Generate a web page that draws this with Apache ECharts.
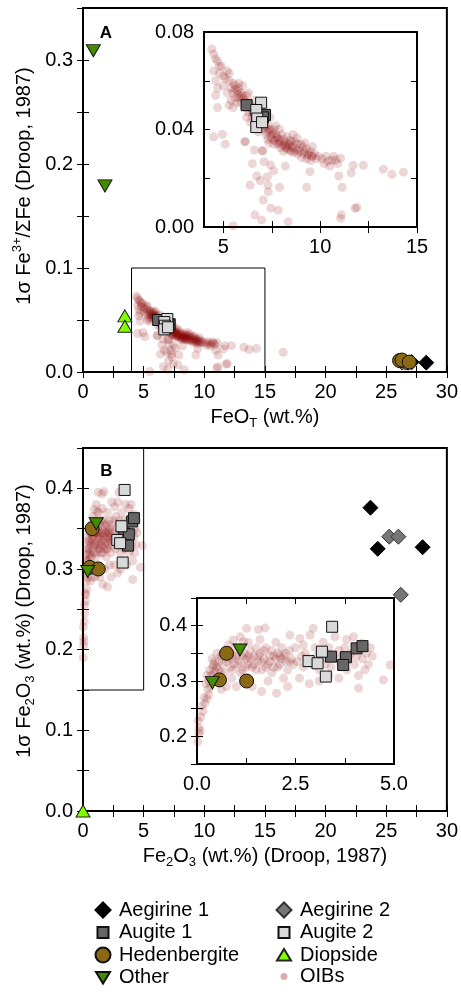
<!DOCTYPE html>
<html>
<head>
<meta charset="utf-8">
<title>Fe3+ uncertainty, pyroxenes vs OIBs</title>
<script src="https://cdn.jsdelivr.net/npm/echarts@6/dist/echarts.min.js"></script>
<style>
  html, body { margin: 0; padding: 0; background: #fff; }
  #chart { width: 461px; height: 992px; }
</style>
</head>
<body>
<div id="chart"></div>
<script>
// ---- panel A: FeO_T (wt.%) vs 1 sigma Fe3+/sum Fe ----
var aeg1A = [[26.8, 0.009], [27.1, 0.0095], [28.3, 0.009]];
var aeg2A = [[26.3, 0.009], [26.5, 0.010], [26.6, 0.009]];
var aug1A = [[6.2, 0.050], [6.75, 0.046], [7.15, 0.046], [6.9, 0.044], [7.05, 0.045]];
var aug2A = [[6.95, 0.051], [6.7, 0.048], [6.75, 0.0445], [6.7, 0.041], [7.0, 0.043]];
var hedA = [[26.1, 0.011], [26.3, 0.0115], [26.9, 0.0095]];
var diopA = [[3.45, 0.054], [3.45, 0.044]];
var otherA = [[0.85, 0.309], [1.81, 0.179]];
var oibA = [
  [4.4,0.073],[4.5,0.071],[4.6,0.069],[4.7,0.068],[4.9,0.066],[4.5,0.064],[4.8,0.063],[5.0,0.062],
  [4.6,0.060],[5.1,0.061],[4.7,0.057],[4.6,0.054],[4.7,0.049],[4.5,0.037],[4.95,0.038],[5.1,0.034],
  [4.8,0.066],[5.2,0.064],[5.3,0.063],[5.0,0.058],
  [5.3,0.060],[5.5,0.059],[5.4,0.057],[5.6,0.058],[5.7,0.056],[5.5,0.055],[5.8,0.057],[5.9,0.055],
  [5.6,0.053],[5.8,0.053],[6.0,0.054],[5.7,0.051],[5.9,0.051],[5.2,0.055],[5.4,0.052],[5.5,0.049],
  [5.8,0.059],[6.0,0.058],[5.3,0.050],
  [6.1,0.052],[6.2,0.054],[6.3,0.051],[6.1,0.049],[6.4,0.050],[6.5,0.048],[6.3,0.047],[6.6,0.049],
  [6.7,0.047],[6.5,0.045],[6.8,0.046],[6.9,0.044],[6.6,0.043],[6.2,0.045],[6.4,0.043],[6.7,0.041],
  [6.1,0.035],[6.6,0.0316],[6.8,0.039],[7.0,0.042],[6.3,0.055],[6.6,0.052],[6.9,0.049],
  [7.1,0.043],[7.2,0.041],[7.3,0.042],[7.4,0.040],[7.5,0.039],[7.2,0.038],[7.6,0.040],[7.7,0.038],
  [7.5,0.036],[7.8,0.037],[7.9,0.036],[7.6,0.034],[7.8,0.034],[8.0,0.038],[7.3,0.036],[7.0,0.0313],
  [7.1,0.0268],[7.44,0.0254],[7.27,0.0206],[7.9,0.0401],[7.7,0.0415],[7.4,0.045],
  [8.1,0.036],[8.2,0.035],[8.3,0.037],[8.4,0.034],[8.5,0.035],[8.6,0.033],[8.3,0.032],[8.7,0.035],
  [8.8,0.034],[8.9,0.032],[8.5,0.031],[8.2,0.033],[8.8,0.0365],[8.1,0.031],[8.6,0.038],[9.0,0.034],
  [9.1,0.033],[9.2,0.031],[9.3,0.032],[9.4,0.030],[9.5,0.031],[9.6,0.029],[9.7,0.030],[9.3,0.028],
  [9.8,0.028],[9.9,0.029],[9.5,0.0273],[9.47,0.0227],[9.2,0.0345],[9.6,0.033],
  [10.1,0.028],[10.3,0.029],[10.4,0.027],[10.6,0.0275],[10.8,0.0275],[10.2,0.026],[10.5,0.025],
  [10.9,0.026],[10.7,0.029],[11.05,0.0282],
  [11.6,0.0222],[11.7,0.0253],[12.23,0.0253],[13.26,0.0237],[13.7,0.0216],[14.3,0.0225],
  [10.96,0.0209],[11.14,0.0163],
  [6.72,0.0209],[7.32,0.0145],[7.06,0.0111],[7.45,0.0077],[6.63,0.005],[6.97,0.0029],[7.83,0.0069],
  [8.35,0.0022],[6.38,0.0172],[7.3,0.0172],[7.9,0.0163],[9.3,0.0163],[11.05,0.0036],[11.8,0.0077],
  [5.51,0.0005],[6.14,0.035],[7.04,0.0313],[16.5,0.019],[6.9,0.019],[7.6,0.023],[6.5,0.026],
  [8.2,0.025],[11.1,0.005],[11.9,0.008],
  [5.6,0.0565],[5.9,0.0535],[6.15,0.051],[6.35,0.049],[6.55,0.0465],[6.75,0.0445],[6.95,0.043],
  [7.15,0.0415],[7.35,0.0395],[7.55,0.038],[7.75,0.0365],[7.95,0.035],[8.15,0.034],[8.35,0.0335],
  [8.55,0.0325],[8.75,0.0315],[8.95,0.031],[9.15,0.030],[9.35,0.0295],[9.55,0.029],[5.75,0.0545],
  [6.05,0.0525],[6.25,0.0505],[6.45,0.0475],[6.65,0.045],[6.85,0.0425],[7.05,0.0405],[7.25,0.039],
  [7.45,0.037],[7.65,0.0355],[7.85,0.0345],[8.05,0.0335],[8.25,0.0325],[8.45,0.0315],[8.65,0.0305],
  [8.85,0.030],[7.35,0.0345],[7.95,0.0325],[8.45,0.0355],[9.05,0.0285]
];

// ---- panel B: Fe2O3 (wt.%) vs 1 sigma Fe2O3 ----
var aeg1B = [[23.7, 0.376], [24.3, 0.325], [28.0, 0.327]];
var aeg2B = [[25.25, 0.340], [26.0, 0.340], [26.2, 0.268]];
var aug1B = [[3.40, 0.344], [3.78, 0.343], [3.71, 0.329], [4.05, 0.359], [4.2, 0.363]];
var aug2B = [[3.43, 0.398], [3.17, 0.353], [2.83, 0.336], [3.06, 0.332], [3.27, 0.308]];
var hedB = [[0.75, 0.350], [0.57, 0.302], [1.26, 0.300]];
var diopB = [[0, 0]];
var otherB = [[0.39, 0.297], [1.09, 0.356]];
var oibB = [
  [0.02,0.19],[0.05,0.205],[0.08,0.21],[0.03,0.228],[0.1,0.235],[0.15,0.245],[0.12,0.255],[0.2,0.26],
  [0.18,0.27],[0.25,0.268],[0.3,0.275],[0.28,0.285],[0.35,0.29],[0.22,0.295],[0.4,0.31],[0.45,0.318],
  [0.32,0.32],[0.5,0.325],[0.42,0.33],[0.55,0.335],[0.38,0.34],[0.6,0.345],[0.5,0.35],[0.65,0.33],
  [0.7,0.315],[0.58,0.305],[0.75,0.29],[0.62,0.285],[0.05,0.215],
  [0.8,0.34],[0.85,0.355],[0.9,0.32],[0.95,0.33],[1.0,0.345],[1.05,0.36],[1.1,0.335],[1.15,0.32],
  [1.2,0.35],[1.25,0.34],[1.3,0.33],[1.35,0.355],[1.4,0.325],[1.45,0.345],[0.92,0.374],[1.18,0.371],
  [1.26,0.395],[0.88,0.305],[1.0,0.29],[1.2,0.305],[1.4,0.29],[1.3,0.37],[1.1,0.38],[0.8,0.365],[1.5,0.36],
  [1.56,0.393],[1.73,0.396],[1.55,0.335],[1.6,0.35],[1.65,0.32],[1.7,0.34],[1.75,0.36],[1.8,0.33],
  [1.85,0.345],[1.9,0.355],[1.95,0.325],[2.0,0.34],[2.05,0.35],[2.1,0.33],[2.15,0.36],[2.2,0.345],
  [2.25,0.335],[2.3,0.32],[2.35,0.355],[2.4,0.34],[2.45,0.33],[1.64,0.281],[2.02,0.278],[1.8,0.3],
  [2.2,0.305],[2.36,0.383],[2.0,0.37],[1.6,0.375],[2.5,0.36],[2.3,0.29],
  [2.55,0.335],[2.61,0.377],[2.65,0.345],[2.7,0.325],[2.75,0.35],[2.8,0.34],[2.87,0.383],[2.95,0.395],
  [2.9,0.33],[3.0,0.36],[3.05,0.345],[3.1,0.32],[3.15,0.34],[3.2,0.37],[3.25,0.33],[3.3,0.35],
  [3.35,0.36],[3.4,0.325],[3.45,0.345],[2.6,0.305],[2.85,0.295],[3.1,0.3],[3.35,0.31],[2.7,0.365],
  [3.55,0.34],[3.6,0.355],[3.65,0.33],[3.7,0.345],[3.75,0.36],[3.8,0.32],[3.85,0.34],[3.9,0.35],
  [3.97,0.38],[4.0,0.33],[4.05,0.345],[4.1,0.287],[4.18,0.368],[4.2,0.34],[4.26,0.32],[4.3,0.35],
  [4.35,0.33],[4.45,0.345],[4.73,0.302],[4.9,0.329],[3.6,0.305],[3.8,0.375],[4.1,0.31],[4.4,0.36],[3.5,0.38],
  [0.45,0.335],[0.55,0.32],[0.65,0.345],[0.75,0.335],[0.85,0.325],[0.95,0.345],[1.05,0.33],[1.15,0.345],
  [1.25,0.325],[1.35,0.34],[1.45,0.33],[1.55,0.345],[1.65,0.335],[1.75,0.325],[1.85,0.335],[1.95,0.345],
  [2.05,0.325],[2.15,0.34],[2.25,0.35],[2.35,0.335],[0.35,0.31],[0.6,0.315],[0.7,0.355],[0.9,0.34],
  [1.1,0.315],[1.3,0.345],[1.5,0.32],[1.7,0.355],[1.9,0.315],[2.1,0.345],[0.4,0.325],[0.5,0.305],
  [0.3,0.3],[0.25,0.31]
];

// axis ranges, ticks and labels
var mainX = [0, 30];
var mainXTicks = [0, 2.5, 5, 7.5, 10, 12.5, 15, 17.5, 20, 22.5, 25, 27.5, 30];
var mainXLabels = [0, 5, 10, 15, 20, 25, 30];
var mainAY = [0, 0.35];
var mainAYTicks = [0, 0.05, 0.1, 0.15, 0.2, 0.25, 0.3, 0.35];
var mainAYLabels = [0, 0.1, 0.2, 0.3];
var insetAX = [4, 15];
var insetAXTicks = [5, 7.5, 10, 12.5, 15];
var insetAXLabels = [5, 10, 15];
var insetAY = [0, 0.08];
var insetAYTicks = [0, 0.02, 0.04, 0.06, 0.08];
var insetAYLabels = [0, 0.04, 0.08];
var zoomBoxA = [[4, 0], [4, 0.1], [15, 0.1], [15, 0]];

var mainBY = [0, 0.45];
var mainBYTicks = [0, 0.05, 0.1, 0.15, 0.2, 0.25, 0.3, 0.35, 0.4, 0.45];
var mainBYLabels = [0, 0.1, 0.2, 0.3, 0.4];
var insetBX = [0, 5];
var insetBXTicks = [0, 1.25, 2.5, 3.75, 5];
var insetBXLabels = [0, 2.5, 5];
var insetBY = [0.15, 0.45];
var insetBYTicks = [0.15, 0.2, 0.25, 0.3, 0.35, 0.4, 0.45];
var insetBYLabels = [0.2, 0.3, 0.4];
var zoomBoxB = [[0, 0.45], [5, 0.45], [5, 0.15], [0, 0.15]];

var FONT = "'Liberation Sans', Arial, Helvetica, sans-serif";

function axisPair(kind, grid, range, ticks, labels, fmt) {
  var base = {
    type: 'value', gridIndex: grid, min: range[0], max: range[1],
    splitLine: { show: false }, axisLine: { show: false },
    axisTick: { inside: true, length: 6, customValues: ticks, lineStyle: { color: '#000', width: 1 } }
  };
  var first = Object.assign({}, base, {
    position: kind === 'x' ? 'bottom' : 'left',
    axisLabel: { customValues: labels, formatter: fmt, margin: 10, fontSize: 20, color: '#000', fontFamily: FONT }
  });
  var second = Object.assign({}, base, {
    position: kind === 'x' ? 'top' : 'right',
    axisLabel: { show: false }
  });
  return [first, second];
}
function f0(v) { return String(v); }
function f1(v) { return v.toFixed(1); }
function f2(v) { return v.toFixed(2); }

var xAxes = [].concat(
  axisPair('x', 0, mainX, mainXTicks, mainXLabels, f0),
  axisPair('x', 1, insetAX, insetAXTicks, insetAXLabels, f0),
  axisPair('x', 2, mainX, mainXTicks, mainXLabels, f0),
  axisPair('x', 3, insetBX, insetBXTicks, insetBXLabels, f1)
);
var yAxes = [].concat(
  axisPair('y', 0, mainAY, mainAYTicks, mainAYLabels, f1),
  axisPair('y', 1, insetAY, insetAYTicks, insetAYLabels, f2),
  axisPair('y', 2, mainBY, mainBYTicks, mainBYLabels, f1),
  axisPair('y', 3, insetBY, insetBYTicks, insetBYLabels, f1)
);

var styles = {
  'Aegirine 1':   { symbol: 'diamond', size: 15, color: '#000000', border: '#000000' },
  'Aegirine 2':   { symbol: 'diamond', size: 15, color: '#777777', border: '#333333' },
  'Augite 1':     { symbol: 'rect', size: 11, color: '#666666', border: '#111111' },
  'Augite 2':     { symbol: 'rect', size: 11, color: '#d9d9d9', border: '#111111' },
  'Hedenbergite': { symbol: 'circle', size: 14, color: '#8b6914', border: '#111111' },
  'Diopside':     { symbol: 'triangle', size: [14, 12], color: '#7fff00', border: '#222222' },
  'Other':        { symbol: 'path://M0,0 L14,0 L7,12 Z', size: [14, 12], color: '#458b00', border: '#111111' }
};

function oib(data, ax) {
  return {
    name: 'OIBs', type: 'scatter', data: data, xAxisIndex: ax, yAxisIndex: ax,
    symbol: 'circle', symbolSize: 9, z: 2, silent: true,
    itemStyle: { color: 'rgba(139,0,0,0.2)', borderWidth: 0 }
  };
}
function marker(name, data, ax) {
  var s = styles[name];
  return {
    name: name, type: 'scatter', data: data, xAxisIndex: ax, yAxisIndex: ax,
    symbol: s.symbol, symbolSize: s.size, z: 3, silent: true,
    itemStyle: { color: s.color, borderColor: s.border, borderWidth: 1, opacity: 1 }
  };
}
function box(data, ax) {
  return {
    name: 'box', type: 'line', data: data, xAxisIndex: ax, yAxisIndex: ax,
    symbol: 'none', z: 1, silent: true, lineStyle: { color: '#000', width: 1 }
  };
}

var series = [];
// main A (axes 0), inset A (axes 2), main B (axes 4), inset B (axes 6)
[[0, 'A'], [2, 'A'], [4, 'B'], [6, 'B']].forEach(function (p) {
  var ax = p[0], panel = p[1];
  var isA = panel === 'A';
  series.push(oib(isA ? oibA : oibB, ax));
  if (ax === 0) series.push(box(zoomBoxA, ax));
  if (ax === 4) series.push(box(zoomBoxB, ax));
  series.push(marker('Aegirine 1', isA ? aeg1A : aeg1B, ax));
  series.push(marker('Aegirine 2', isA ? aeg2A : aeg2B, ax));
  series.push(marker('Augite 1', isA ? aug1A : aug1B, ax));
  series.push(marker('Augite 2', isA ? aug2A : aug2B, ax));
  series.push(marker('Hedenbergite', isA ? hedA : hedB, ax));
  series.push(marker('Diopside', isA ? diopA : diopB, ax));
  series.push(marker('Other', isA ? otherA : otherB, ax));
});

// legend icons in a 22x22 box so each keeps its own size
var PAD = 'path://M0,0 M22,22 ';
var icons = {
  'Aegirine 1': PAD + 'M11,3.5 L18.5,11 L11,18.5 L3.5,11 Z',
  'Aegirine 2': PAD + 'M11,3.5 L18.5,11 L11,18.5 L3.5,11 Z',
  'Augite 1': PAD + 'M5.5,5.5 L16.5,5.5 L16.5,16.5 L5.5,16.5 Z',
  'Augite 2': PAD + 'M5.5,5.5 L16.5,5.5 L16.5,16.5 L5.5,16.5 Z',
  'Hedenbergite': PAD + 'M3.5,11 A7.5,7.5 0 1 1 18.5,11 A7.5,7.5 0 1 1 3.5,11 Z',
  'Diopside': PAD + 'M11,5 L18,16.5 L4,16.5 Z',
  'Other': PAD + 'M4,5.5 L18,5.5 L11,17 Z',
  'OIBs': PAD + 'M7.5,11 A3.5,3.5 0 1 1 14.5,11 A3.5,3.5 0 1 1 7.5,11 Z'
};
function legendItems(names) {
  return names.map(function (n) {
    var item = { name: n, icon: icons[n] };
    if (n === 'OIBs') item.itemStyle = { color: '#cf9999', borderWidth: 0 };
    return item;
  });
}
function legend(left, names) {
  return {
    orient: 'vertical', left: left, top: 898, width: 180, height: 120,
    padding: 0, itemGap: -1.5, itemWidth: 22, itemHeight: 22, selectedMode: false,
    textStyle: { fontSize: 20, lineHeight: 22, color: '#000', fontFamily: FONT },
    data: legendItems(names)
  };
}

var richText = {
  n: { fontSize: 20, lineHeight: 26, verticalAlign: 'middle', fontFamily: FONT, fill: '#000' },
  sup: { fontSize: 13, lineHeight: 13, verticalAlign: 'top', fontFamily: FONT, fill: '#000' },
  sub: { fontSize: 13, lineHeight: 13, verticalAlign: 'bottom', fontFamily: FONT, fill: '#000' }
};
function title(text, x, y, rotate) {
  return {
    type: 'text', x: x, y: y, rotation: rotate ? Math.PI / 2 : 0, silent: true,
    style: {
      text: text, rich: richText, fontSize: 20, fontFamily: FONT, fill: '#000',
      align: 'center', verticalAlign: 'middle'
    }
  };
}
function letter(text, x, y) {
  return {
    type: 'text', x: x, y: y, silent: true,
    style: { text: text, fontSize: 17, fontWeight: 'bold', fontFamily: FONT, fill: '#000', align: 'center', verticalAlign: 'middle' }
  };
}

var chart = echarts.init(document.getElementById('chart'), null, { renderer: 'canvas' });
chart.setOption({
  animation: false,
  backgroundColor: '#fff',
  grid: [
    { left: 83, top: 8, width: 364, height: 364, show: true, borderColor: '#000', borderWidth: 2, backgroundColor: 'transparent' },
    { left: 204, top: 32, width: 213, height: 195, show: true, borderColor: '#000', borderWidth: 2, backgroundColor: '#fff' },
    { left: 83, top: 448, width: 364, height: 363, show: true, borderColor: '#000', borderWidth: 2, backgroundColor: 'transparent' },
    { left: 197, top: 598, width: 197, height: 166, show: true, borderColor: '#000', borderWidth: 2, backgroundColor: '#fff' }
  ],
  xAxis: xAxes,
  yAxis: yAxes,
  legend: [
    legend(91, ['Aegirine 1', 'Augite 1', 'Hedenbergite', 'Other']),
    legend(272, ['Aegirine 2', 'Augite 2', 'Diopside', 'OIBs'])
  ],
  graphic: [
    title('{n|1σ Fe}{sup|3+}{n|/ΣFe (Droop, 1987)}', 24, 186, true),
    title('{n|FeO}{sub|T}{n| (wt.%)}', 265, 417, false),
    title('{n|1σ Fe}{sub|2}{n|O}{sub|3}{n| (wt.%) (Droop, 1987)}', 24, 621, true),
    title('{n|Fe}{sub|2}{n|O}{sub|3}{n| (wt.%) (Droop, 1987)}', 265, 856, false),
    letter('A', 106, 33),
    letter('B', 106.5, 471)
  ],
  series: series
});
</script>
</body>
</html>
